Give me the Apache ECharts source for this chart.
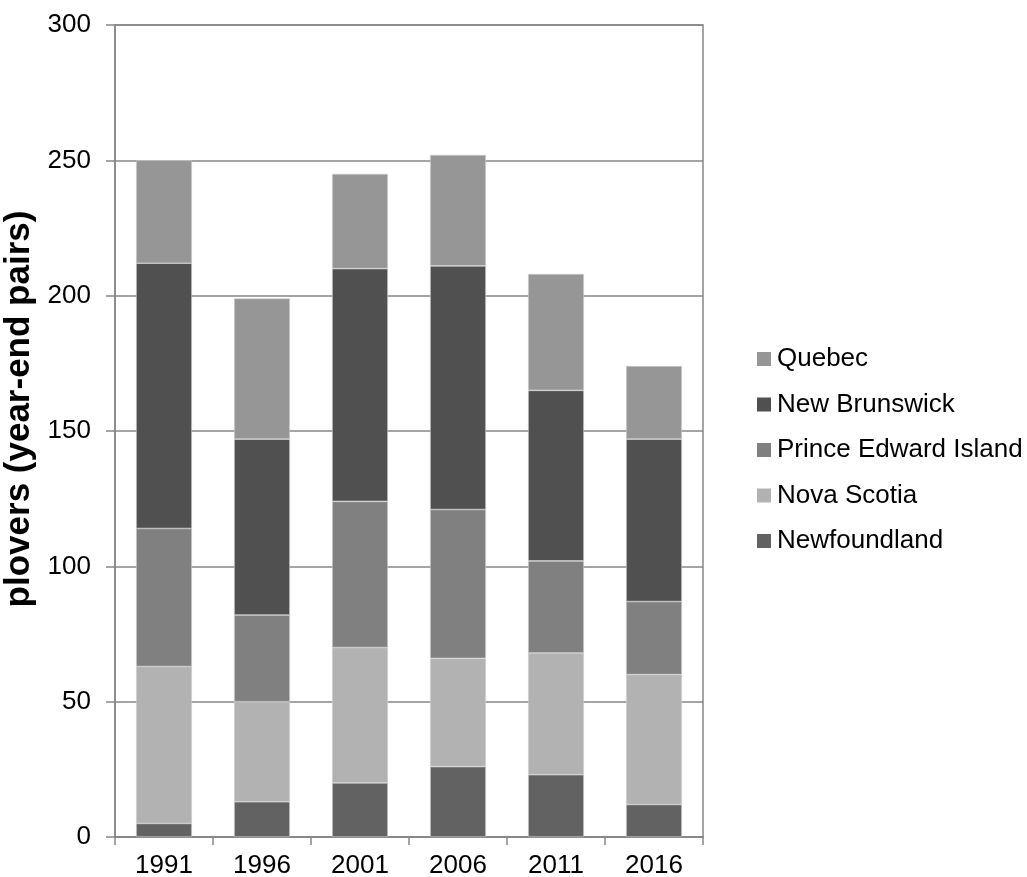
<!DOCTYPE html>
<html>
<head>
<meta charset="utf-8">
<style>
  html, body { margin: 0; padding: 0; background: #fff; }
  #chart { width: 1027px; height: 877px; }
</style>
</head>
<body>
<div id="chart"></div>
<script src="https://cdn.jsdelivr.net/npm/echarts@6/dist/echarts.min.js"></script>
<script>
  var years = ['1991', '1996', '2001', '2006', '2011', '2016'];
  var newfoundland = [5, 13, 20, 26, 23, 12];
  var novaScotia = [58, 37, 50, 40, 45, 48];
  var princeEdward = [51, 32, 54, 55, 34, 27];
  var newBrunswick = [98, 65, 86, 90, 63, 60];
  var quebec = [38, 52, 35, 41, 43, 27];

  var font = 'Liberation Sans, Arial, sans-serif';

  function seg(name, data, color) {
    return {
      name: name,
      type: 'bar',
      stack: 'total',
      barWidth: '57%',
      data: data,
      itemStyle: { color: color, borderColor: '#d0d0d0', borderWidth: 0.6 }
    };
  }

  var chart = echarts.init(document.getElementById('chart'));
  var option = {
    animation: false,
    grid: {
      left: 115, right: 324, top: 25, bottom: 40,
      outerBoundsMode: 'none',
      show: true, borderColor: '#868686', borderWidth: 1.5
    },
    legend: {
      orient: 'vertical',
      left: 752, top: 341,
      itemWidth: 14, itemHeight: 14, itemGap: 19.5,
      icon: 'rect',
      itemStyle: { borderWidth: 0 },
      textStyle: { fontFamily: font, fontSize: 26, lineHeight: 26, color: '#000', padding: [0, 0, 0, 1] },
      data: ['Quebec', 'New Brunswick', 'Prince Edward Island', 'Nova Scotia', 'Newfoundland']
    },
    xAxis: {
      type: 'category',
      data: years,
      axisLine: { lineStyle: { color: '#868686', width: 1.5 } },
      axisTick: { show: true, length: 8, alignWithLabel: false, lineStyle: { color: '#868686', width: 1.5 } },
      axisLabel: { fontFamily: font, fontSize: 26, color: '#000', margin: 16 }
    },
    yAxis: {
      type: 'value',
      min: 0, max: 300, interval: 50,
      name: 'plovers (year-end pairs)',
      nameLocation: 'middle',
      nameGap: 76,
      nameTextStyle: { fontFamily: font, fontSize: 35, fontWeight: 'bold', color: '#000', padding: [0, 0, 0, 44] },
      axisLine: { show: true, lineStyle: { color: '#868686', width: 1.5 } },
      axisTick: { show: true, length: 9, lineStyle: { color: '#868686', width: 1.5 } },
      axisLabel: { fontFamily: font, fontSize: 26, color: '#000', margin: 24 },
      splitLine: { lineStyle: { color: '#868686', width: 1.5 } }
    },
    series: [
      seg('Newfoundland', newfoundland, '#626262'),
      seg('Nova Scotia', novaScotia, '#b2b2b2'),
      seg('Prince Edward Island', princeEdward, '#808080'),
      seg('New Brunswick', newBrunswick, '#505050'),
      seg('Quebec', quebec, '#969696')
    ]
  };
  chart.setOption(option);
  window.addEventListener('resize', function() {
    chart.resize();
  });
</script>
</body>
</html>
